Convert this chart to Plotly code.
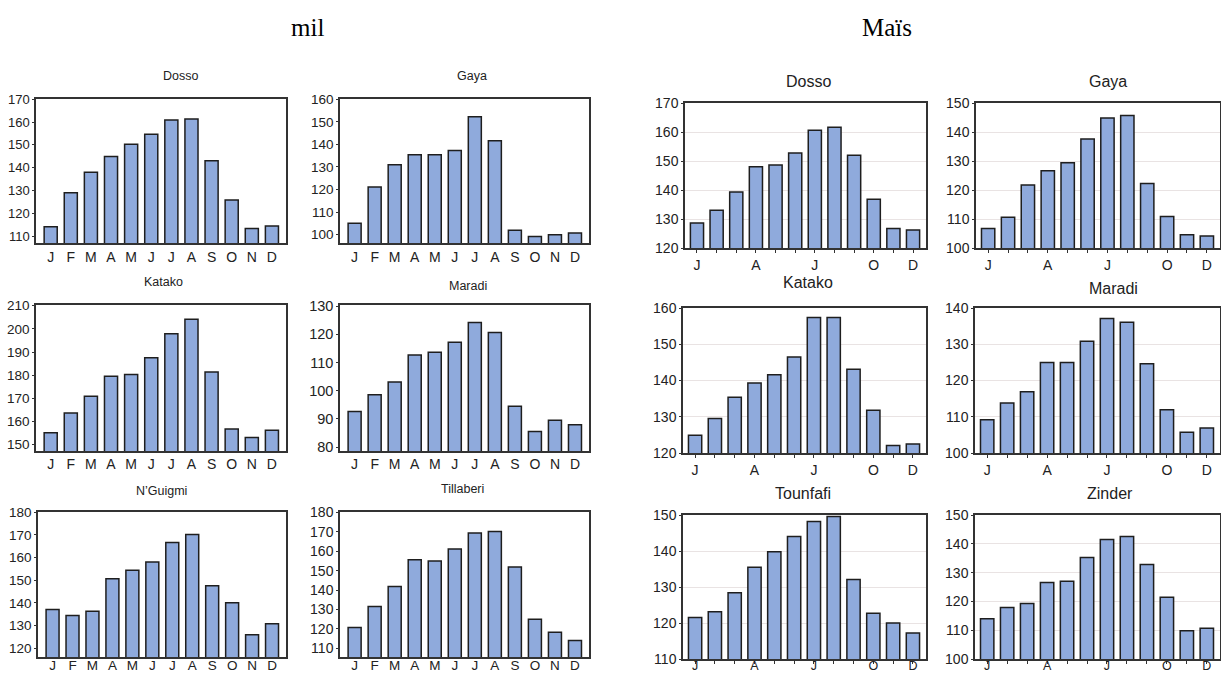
import plotly.graph_objects as go

W, H = 1221, 675

months = list(range(1, 13))
month_labels = ["J", "F", "M", "A", "M", "J", "J", "A", "S", "O", "N", "D"]
mais_labels = ["J", "", "", "A", "", "", "J", "", "", "O", "", "D"]

section_titles = ["mil", "Maïs"]

mil_dosso = [114.1, 129.0, 138.0, 144.9, 150.3, 154.6, 160.9, 161.3, 143.0, 125.8, 113.3, 114.5]
mil_gaya = [105.1, 121.1, 131.0, 135.4, 135.4, 137.3, 152.2, 141.6, 101.9, 99.2, 100.0, 100.7]
mil_katako = [155.2, 163.7, 170.9, 179.6, 180.3, 187.5, 197.9, 204.2, 181.4, 156.8, 153.1, 156.3]
mil_maradi = [92.6, 98.6, 103.1, 112.7, 113.6, 117.2, 124.2, 120.6, 94.5, 85.5, 89.5, 87.9]
mil_nguigmi = [137.1, 134.4, 136.3, 150.6, 154.4, 158.0, 166.6, 170.2, 147.5, 140.0, 125.9, 130.8]
mil_tillaberi = [120.6, 131.5, 141.8, 155.6, 155.0, 161.2, 169.5, 170.2, 151.9, 124.9, 118.2, 113.9]

mais_dosso = [128.6, 133.0, 139.3, 148.0, 148.6, 152.8, 160.6, 161.6, 152.0, 136.8, 126.7, 126.2]
mais_gaya = [106.7, 110.6, 121.7, 126.6, 129.4, 137.6, 144.8, 145.7, 122.2, 110.9, 104.6, 104.1]
mais_katako = [124.9, 129.5, 135.4, 139.3, 141.6, 146.5, 157.4, 157.4, 143.1, 131.8, 122.1, 122.5]
mais_maradi = [109.2, 113.8, 116.9, 125.0, 125.0, 130.8, 137.1, 136.1, 124.6, 111.9, 105.7, 106.9]
mais_tounfafi = [121.5, 123.1, 128.4, 135.5, 139.8, 144.0, 148.2, 149.6, 132.1, 122.7, 120.0, 117.2]
mais_zinder = [114.0, 117.9, 119.3, 126.6, 127.0, 135.2, 141.5, 142.5, 132.8, 121.4, 109.8, 110.7]

# (title, values, kind, (left, right, top, bottom) px, yrange, (title x, title y), yfont, month-label standoff, month font)
panels = [
    ("Dosso", mil_dosso, "mil", (36, 286, 99, 243), [107, 170.1], (180, 76), 13, 0, 14),
    ("Gaya", mil_gaya, "mil", (340, 589, 99, 243), [96.3, 160.1], (472, 76), 13.5, 0, 14),
    ("Katako", mil_katako, "mil", (36, 286, 305, 451), [147.3, 210.3], (163, 282), 13.5, -1, 14),
    ("Maradi", mil_maradi, "mil", (340, 589, 305, 451), [78.6, 130.4], (468, 286), 14.5, -1, 14),
    ("N\u2019Guigmi", mil_nguigmi, "mil", (38, 286, 512, 657), [116.1, 180.1], (161, 491), 13.5, -5, 13.5),
    ("Tillaberi", mil_tillaberi, "mil", (340, 589, 512, 657), [105.4, 180.3], (462, 489), 14, -5, 13.5),
    ("Dosso", mais_dosso, "mais", (685, 926, 103, 248), [120, 170], (808, 81), 14, 0, 14),
    ("Gaya", mais_gaya, "mais", (976, 1220, 103, 248), [100, 150], (1108, 81), 14, 0, 14),
    ("Katako", mais_katako, "mais", (683, 926, 308, 453), [120, 160], (808, 282), 14, 0, 14),
    ("Maradi", mais_maradi, "mais", (975, 1220, 308, 453), [100, 140], (1113, 288), 14, 0, 14),
    ("Tounfafi", mais_tounfafi, "mais", (683, 926, 515, 659), [110, 150], (803, 493), 14, -9, 12.5),
    ("Zinder", mais_zinder, "mais", (975, 1220, 515, 659), [100, 150], (1110, 493), 14, -9, 12.5),
]

fig = go.Figure()
layout = {}
annotations = []

for i, (name, vals, kind, (l, r, t, b), yr, (tx, ty), yfs, xso, xfs) in enumerate(panels, start=1):
    xa = "x" if i == 1 else f"x{i}"
    ya = "y" if i == 1 else f"y{i}"
    is_mil = kind == "mil"
    fig.add_trace(go.Bar(
        x=months, y=vals, xaxis=xa, yaxis=ya,
        width=0.65 if is_mil else 0.67,
        marker=dict(color="#8FAADC", line=dict(color="#1E1E1E", width=1.5)),
        showlegend=False, hoverinfo="x+y",
    ))
    xkey = "xaxis" if i == 1 else f"xaxis{i}"
    ykey = "yaxis" if i == 1 else f"yaxis{i}"
    layout[xkey] = dict(
        domain=[l / W, r / W], anchor=ya, automargin=False,
        range=[0.27, 12.7] if is_mil else [0.39, 12.66],
        tickmode="array", tickvals=months,
        ticktext=month_labels if is_mil else mais_labels,
        ticks="" if is_mil else "outside", ticklen=3, tickcolor="#333",
        ticklabelstandoff=xso,
        showline=True, mirror=True, linecolor="#333", linewidth=1.5,
        showgrid=False, zeroline=False, fixedrange=True,
        tickfont=dict(family="Liberation Sans, Arial", size=xfs, color="#222"),
    )
    layout[ykey] = dict(
        domain=[1 - b / H, 1 - t / H], anchor=xa, automargin=False,
        range=yr, dtick=10, tick0=0,
        ticks="outside", ticklen=2, tickcolor="#333",
        showline=True, mirror=True, linecolor="#333", linewidth=1.5,
        showgrid=not is_mil, gridcolor="#E9E3E3", gridwidth=1,
        zeroline=False, fixedrange=True,
        tickfont=dict(family="Liberation Sans, Arial", size=yfs, color="#222"),
    )
    annotations.append(dict(
        text=name, x=tx / W, y=1 - ty / H, xref="paper", yref="paper",
        xanchor="center", yanchor="middle", showarrow=False,
        font=dict(family="Liberation Sans, Arial", size=12.5 if is_mil else 16, color="#222"),
    ))

for txt, xpx in zip(section_titles, [307, 887]):
    annotations.append(dict(
        text=txt, x=xpx / W, y=1 - 27 / H, xref="paper", yref="paper",
        xanchor="center", yanchor="middle", showarrow=False,
        font=dict(family="Liberation Serif, Times New Roman, serif", size=25, color="#000"),
    ))

fig.update_layout(
    width=W, height=H, autosize=False,
    margin=dict(l=0, r=0, t=0, b=0, pad=0, autoexpand=False),
    paper_bgcolor="white", plot_bgcolor="white",
    annotations=annotations,
    bargap=0.35,
    **layout,
)

fig.write_html(
    "out.html",
    config={"displayModeBar": False},
    post_script="document.body.style.margin='0';document.body.style.overflow='hidden';",
)
